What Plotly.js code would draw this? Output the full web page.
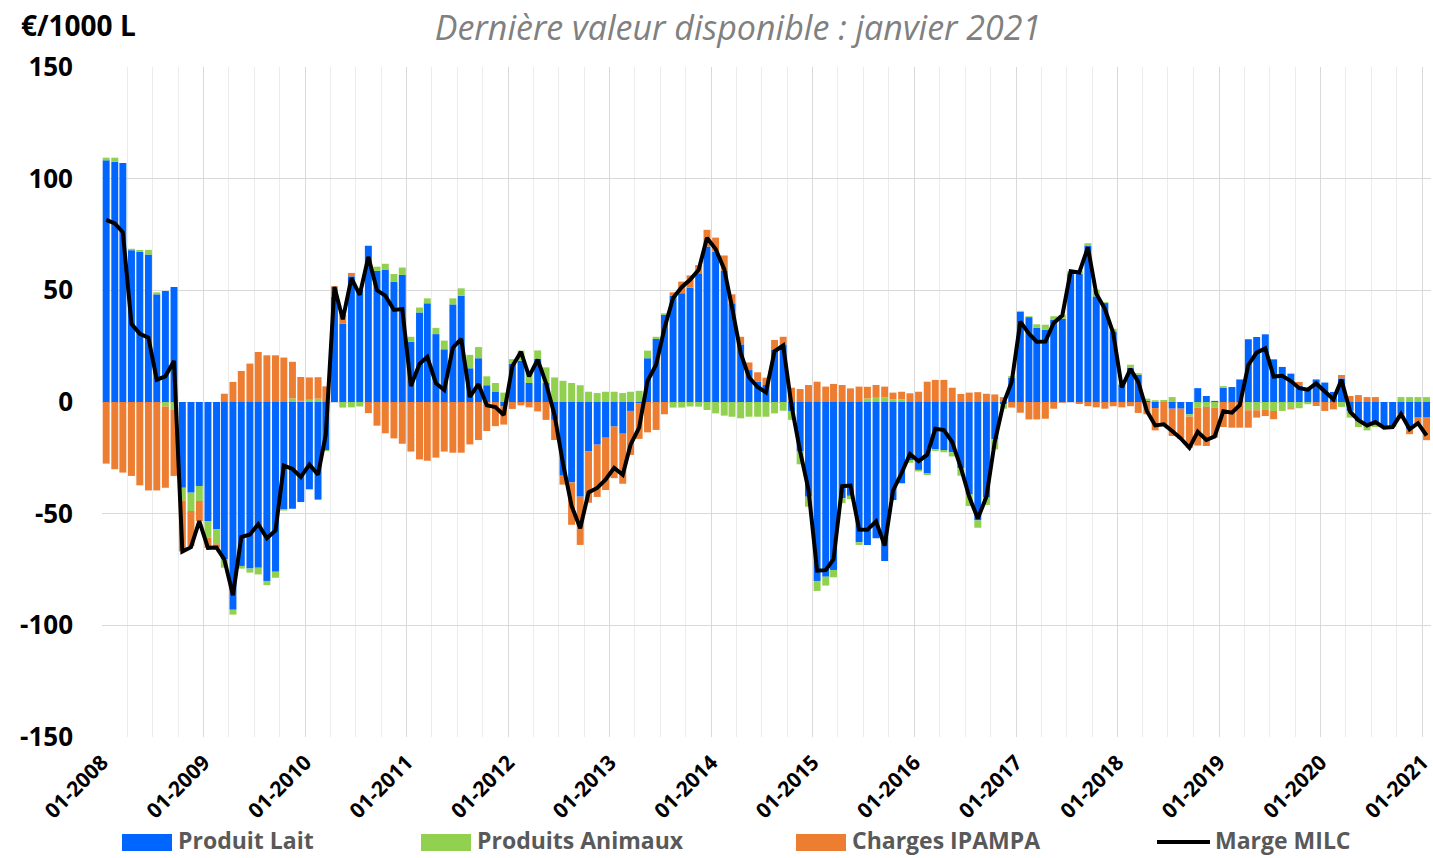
<!DOCTYPE html>
<html>
<head>
<meta charset="utf-8">
<script src="https://cdn.plot.ly/plotly-3.0.1.min.js"></script>
<style>
html,body{margin:0;padding:0;background:#fff;}
#chart{width:1433px;height:858px;}
</style>
</head>
<body>
<div id="chart"></div>
<script>
// Monthly categories: 01-2008 .. 01-2021
const firstYear = 2008, lastYear = 2021;
const months = [];
for (let y = firstYear; y <= lastYear; y++) {
  for (let m = 1; m <= 12; m++) {
    if (y === lastYear && m > 1) break;
    months.push(y + '-' + String(m).padStart(2, '0') + '-16');
  }
}

const seriesNames = ['Produit Lait', 'Produits Animaux', 'Charges IPAMPA', 'Marge MILC'];

const produitLait = [
  108.2, 107.6, 107, 68, 67.2, 66, 48.2, 49.7, 51.5, -38.4,
  -40.6, -37.6, -53.3, -57, -70.4, -93, -73.4, -74.6, -74.2, -80.1,
  -76, -48.1, -47.8, -44.8, -39.1, -43.7, -21.5, 47.3, 35, 56.3,
  50, 70, 58.7, 59.1, 53.9, 56.9, 27, 40.1, 44.2, 30.4,
  23.6, 43.7, 47.6, 15.1, 19.6, 7.5, 4.7, -1.9, 17, 18.5,
  8.5, 19.3, 8.5, -8, -33, -36, -42.4, -22, -19.1, -16,
  -11, -14.2, -4, -0.5, 19.6, 28.2, 39, 47.6, 48.7, 51.2,
  57.6, 69.6, 67.3, 58.7, 44.2, 25.8, 14.3, 9.1, 7.6, 23.3,
  25.8, -4, -22.2, -42.4, -80.1, -78.2, -75.2, -43.1, -42, -62.8,
  -64, -61, -71.2, -43.9, -36.4, -26, -30.4, -32, -21.2, -21.5,
  -22.5, -29.7, -41.4, -53, -42.8, -16.7, -1, 10.9, 40.4, 38,
  33.3, 32.4, 36.9, 37.3, 57.3, 57.3, 70.1, 47.3, 44.3, 31.6,
  7.8, 15.2, 12.2, 0.5, -2.7, 0, -3, -3, -5.5, 6.2,
  2.7, 0.5, 6.4, 6.7, 10.1, 28.1, 29.1, 30.3, 19.1, 15.7,
  12.7, 7.2, 5.7, 10.1, 8.7, 4.5, 10.6, -4, -8.5, -10.3,
  -9.3, -11.2, -10.7, -5.5, -12.2, -7, -7
];

const produitsAnimaux = [
  1.2, 1.8, 0, 0.6, 0.9, 2.1, 0.9, -2, -3.3, -5.7,
  -8.2, -6.7, -7.5, -6.7, -3.8, -2.2, -1.2, -1.8, -3, -1.9,
  -2.7, -0.5, 1.6, 0.5, 1, 1.5, -0.5, 0, -2.5, -2.4,
  -2, 0, 1.9, 2.8, 3.4, 3.3, 2.2, 2.2, 2.2, 2.8,
  3.9, 2.7, 3.3, 6, 5, 4, 3.8, 4.2, 2.2, 4.5,
  4.5, 3.8, 7, 11, 9.5, 8.5, 7.5, 4.6, 4, 4.6,
  4.6, 4, 4.6, 5, 3.4, 1, 0.7, -2.5, -2.5, -2,
  -2.1, -3.6, -5.1, -6.1, -6.6, -7.3, -6.6, -6.6, -6.6, -5.1,
  -3.9, -4, -5.7, -4.5, -4.5, -4, -3.3, -2.2, -1.5, -1.2,
  1.6, 1.9, 2, 1.2, 1.2, -1.2, -0.7, -0.7, -0.7, -1,
  -1.9, -3.3, -5.2, -3.3, -3.3, -4.5, -2, 0.7, 0.4, 0.4,
  1.5, 2.2, 1.5, 1.8, 1.2, 1.5, 1, 3, 0.4, 1.2,
  0.5, 1.5, 0.7, 1, 0.8, 0.9, 2.2, 0, -1, -2.5,
  -2.2, -2.5, 0.7, 0, 0, -3.7, -3.7, -3.3, -4, -4,
  -2.8, -2.8, -1, 0, 0, 0, -2.2, -3, -2.7, -2.4,
  -1.9, -0.3, -0.5, 2.2, 2.2, 2.2, 2.2
];

const chargesIpampa = [
  -27.6, -30.1, -31.6, -33.1, -37.3, -39.6, -39.6, -36.4, -29.8, -22.8,
  -15.7, -9, -4.5, -1.5, 3.7, 9, 13.9, 17.2, 22.4, 20.9,
  20.9, 19.9, 16.4, 10.7, 10, 9.6, 7, 4.5, 4, 1.5,
  0, -5, -10.6, -14, -16.3, -18.7, -22.2, -25.7, -26.3, -24.9,
  -22.2, -22.7, -22.7, -19, -17, -13, -10.8, -8.2, -3.1, -1.5,
  -2.4, -4.2, -8, -9, -4, -19, -21.6, -23.1, -23.4, -23.4,
  -23.1, -22.4, -19.7, -16, -13.6, -12.5, -5.5, 1.5, 5.2, 5.5,
  3.7, 7.5, 6.3, 6.9, 4, 3.4, 3.4, 4.2, 3.3, 4.5,
  3.4, 6.4, 5.8, 7.6, 9.1, 6.9, 8.1, 7.6, 6.1, 6.9,
  5.2, 5.7, 4.9, 3, 3.4, 3.9, 4.6, 9.1, 9.9, 9.9,
  6.4, 3.6, 4.2, 4.4, 3.7, 3.4, 2.2, -2.5, -4.8, -7.8,
  -7.8, -7.5, -3, -0.3, 0, -0.9, -1.9, -2.4, -3, -1.9,
  -2.4, -1.9, -4.9, -5.5, -10, -10.5, -12.2, -13.3, -14, -17,
  -17.5, -13.4, -11.2, -11.5, -11.5, -7.8, -3.3, -3, -3.7, 0,
  -0.5, 1.8, 0, -1.8, -4, -3.3, 1.5, 2.7, 3.1, 2.2,
  2.2, 0, 0, -2, -2.2, -3.7, -10.1
];

const margeMilc = [
  81.5, 80, 76, 35, 30.5, 28.8, 10, 11.5, 18.4, -67,
  -65, -53.3, -65.3, -65.2, -70.5, -86.5, -60.5, -59.3, -54.7, -61,
  -57.5, -28.5, -30, -33.6, -28, -32.5, -14.5, 51.5, 37, 55.5,
  48, 65, 50, 47.6, 41.2, 41.6, 7.2, 17, 20.2, 8.4,
  5.4, 24.3, 28.3, 2.3, 8, -1.5, -2.3, -5.8, 16, 22.5,
  11.5, 18.9, 8.5, -6, -27.5, -46.5, -56.5, -40.5, -38.5, -34.8,
  -29.5, -32.6, -19.1, -11.5, 9.4, 16.7, 33, 46.6, 51.4, 54.7,
  59.2, 73.5, 68.5, 59.5, 42.5, 22, 11.1, 6.7, 4.3, 22.7,
  25.3, -1.6, -22.1, -39.3, -75.5, -75.3, -70.4, -37.7, -37.4, -57.1,
  -57.2, -53.4, -64.3, -39.7, -31.8, -23.3, -26.5, -23.6, -12, -12.6,
  -18, -29.4, -42.4, -52.2, -42.4, -17.8, -0.8, 9.1, 36, 30.6,
  27, 27.1, 35.4, 38.8, 58.5, 58, 69.2, 48.5, 41.7, 30.9,
  6.5, 14.8, 9, -4, -10.5, -10, -13, -16.3, -20.5, -13.3,
  -17, -15.4, -4.1, -4.8, -1.4, 16.6, 22.1, 24, 11.4, 11.7,
  9.4, 6.2, 5.5, 8.3, 4.7, 1.2, 9.9, -4.3, -8.1, -10.5,
  -9, -11.5, -11.2, -5.3, -12.2, -9.5, -15
];

const yTicks = [-150, -100, -50, 0, 50, 100, 150];
const yTickLabels = ['-150', '-100', '-50', '0', '50', '100', '150'];
const titleText = 'Dernière valeur disponible : janvier 2021';
const unitText = '€/1000 L';

const colors = ['#0066FF', '#92D050', '#ED7D31', '#000000'];
const barWidth = 25 * 86400000;
const FONT = 'Open Sans, Lato, sans-serif';

const traces = [
  {type: 'bar', name: seriesNames[0], x: months, y: produitLait, width: barWidth,
   marker: {color: colors[0], line: {width: 0}}, showlegend: false},
  {type: 'bar', name: seriesNames[1], x: months, y: produitsAnimaux, width: barWidth,
   marker: {color: colors[1], line: {width: 0}}, showlegend: false},
  {type: 'bar', name: seriesNames[2], x: months, y: chargesIpampa, width: barWidth,
   marker: {color: colors[2], line: {width: 0}}, showlegend: false},
  {type: 'scatter', mode: 'lines', name: seriesNames[3], x: months, y: margeMilc,
   line: {color: colors[3], width: 4}, showlegend: false}
];

// manual legend (paper coordinates)
const L = 102, W = 1329, B = 737, H = 670;
const px = v => (v - L) / W;
const py = v => (B - v) / H;
const legendItems = [
  {x0: 122, x1: 172, tx: 177, kind: 'bar', color: colors[0], text: seriesNames[0]},
  {x0: 421, x1: 471, tx: 476, kind: 'bar', color: colors[1], text: seriesNames[1]},
  {x0: 796, x1: 846, tx: 851, kind: 'bar', color: colors[2], text: seriesNames[2]},
  {x0: 1157, x1: 1210, tx: 1214, kind: 'line', color: colors[3], text: seriesNames[3]}
];
const shapes = [], annotations = [];
legendItems.forEach(it => {
  if (it.kind === 'bar') {
    shapes.push({type: 'rect', xref: 'paper', yref: 'paper',
      x0: px(it.x0), x1: px(it.x1), y0: py(834), y1: py(851),
      fillcolor: it.color, line: {width: 0}});
  } else {
    shapes.push({type: 'line', xref: 'paper', yref: 'paper',
      x0: px(it.x0), x1: px(it.x1), y0: py(842), y1: py(842),
      line: {color: it.color, width: 4}});
  }
  annotations.push({xref: 'paper', yref: 'paper', x: px(it.tx), y: py(840),
    xanchor: 'left', yanchor: 'middle', showarrow: false, text: it.text,
    borderpad: 0,
    font: {family: FONT, size: 23, color: '#595959', weight: 'bold'}});
});
annotations.push({xref: 'paper', yref: 'paper', x: px(19), y: py(25),
  xanchor: 'left', yanchor: 'middle', showarrow: false, text: unitText,
  font: {family: FONT, size: 28, color: '#000000', weight: 'bold'}});

const layout = {
  width: 1433, height: 858,
  margin: {l: 102, r: 2, t: 67, b: 121},
  paper_bgcolor: '#ffffff', plot_bgcolor: '#ffffff',
  barmode: 'relative', bargap: 0.15,
  title: {text: titleText, x: 738 / 1433, xanchor: 'center',
    y: 1 - 28 / 858, yref: 'container', yanchor: 'middle',
    font: {family: FONT, size: 34, color: '#808080', style: 'italic'}},
  xaxis: {
    type: 'date', range: ['2008-01-01', '2021-02-01'],
    tick0: '2008-01-01', dtick: 'M12', tickformat: '%m-%Y',
    tickangle: -45, ticks: '', showline: false, ticklabelstandoff: 8,
    ticklabeloverflow: 'allow',
    showgrid: true, gridcolor: '#d9d9d9', gridwidth: 1,
    minor: {dtick: 'M3', showgrid: true, gridcolor: '#ececec', gridwidth: 1},
    tickfont: {family: FONT, size: 21, color: '#000000', weight: 'bold'},
    fixedrange: true
  },
  yaxis: {
    range: [-150, 150], tickvals: yTicks, ticktext: yTickLabels, ticks: '',
    showgrid: true, gridcolor: '#d9d9d9', gridwidth: 1,
    zeroline: true, zerolinecolor: '#d9d9d9', zerolinewidth: 1,
    showline: false, ticklabelstandoff: 28,
    tickfont: {family: FONT, size: 26, color: '#000000', weight: 'bold'},
    fixedrange: true
  },
  shapes: shapes,
  annotations: annotations,
  showlegend: false
};

Plotly.newPlot('chart', traces, layout, {displayModeBar: false, staticPlot: true});
</script>
</body>
</html>
